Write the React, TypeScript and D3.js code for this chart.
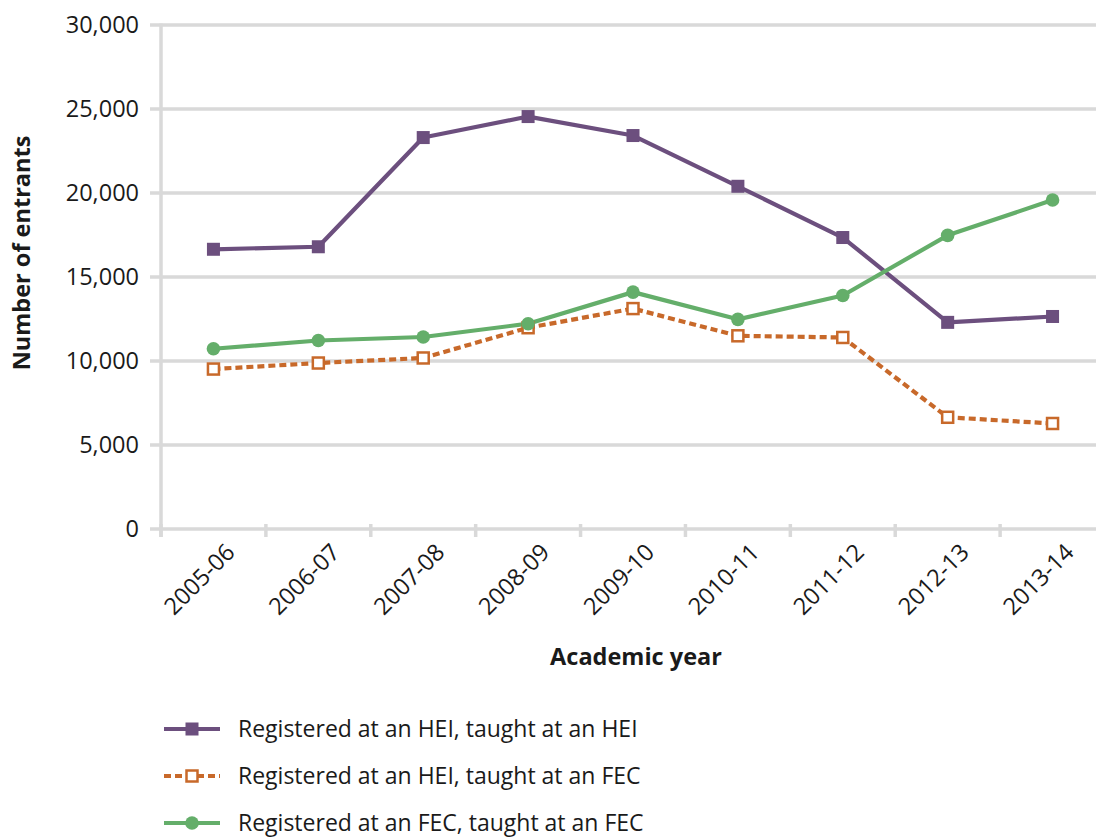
import React from "react";
import * as d3 from "d3";

const years = ["2005-06","2006-07","2007-08","2008-09","2009-10","2010-11","2011-12","2012-13","2013-14"];
const heiHei = [16650, 16800, 23300, 24550, 23420, 20400, 17350, 12300, 12650];
const heiFec = [9520, 9880, 10180, 11980, 13120, 11500, 11400, 6650, 6280];
const fecFec = [10730, 11220, 11430, 12220, 14100, 12480, 13900, 17480, 19580];
const yTicks = [0, 5000, 10000, 15000, 20000, 25000, 30000];
const seriesNames = [
  "Registered at an HEI, taught at an HEI",
  "Registered at an HEI, taught at an FEC",
  "Registered at an FEC, taught at an FEC",
];

const W = 1096, H = 837;
const FONT = "'Open Sans', sans-serif";
const PURPLE = "#6c4f7e";
const ORANGE = "#c8692a";
const GREEN = "#64ae6a";
const GRID = "#d9d9d9";

export default function App() {
  const left = 161, right = 1105, top = 25, bottom = 529;
  const x = d3.scaleBand<string>().domain(years).range([left, right]).paddingInner(0).paddingOuter(0);
  const y = d3.scaleLinear().domain([0, 30000]).range([bottom, top]);
  const cx = (d: string) => (x(d) as number) + x.bandwidth() / 2;
  const line = d3.line<number>().x((_, i) => cx(years[i])).y((v) => y(v));

  const series = [
    { name: seriesNames[0], vals: heiHei, color: PURPLE, dash: undefined as string | undefined, marker: "fsq" },
    { name: seriesNames[1], vals: heiFec, color: ORANGE, dash: "7,4", marker: "osq" },
    { name: seriesNames[2], vals: fecFec, color: GREEN, dash: undefined, marker: "circ" },
  ];

  const marker = (m: string, px: number, py: number, color: string, key: string | number) => {
    if (m === "fsq") return <rect key={key} x={px - 6.5} y={py - 6.5} width={13} height={13} fill={color} />;
    if (m === "osq") return <rect key={key} x={px - 5.5} y={py - 5.5} width={11} height={11} fill="#fff" stroke={color} strokeWidth={2.5} />;
    return <circle key={key} cx={px} cy={py} r={6.8} fill={color} />;
  };

  const bandTicks = years.map((d) => x(d) as number).concat([right]);

  return (
    <svg width={W} height={H} style={{ position: "absolute", left: 0, top: 0, display: "block" }} fontFamily={FONT}>
      <rect width={W} height={H} fill="#fff" />
      {yTicks.map((t) => (
        <line key={t} x1={150} x2={W} y1={y(t)} y2={y(t)} stroke={GRID} strokeWidth={3.5} />
      ))}
      <line x1={left} x2={left} y1={top - 1.5} y2={bottom + 8} stroke={GRID} strokeWidth={3.5} />
      {bandTicks.map((t, i) => (
        <line key={i} x1={t} x2={t} y1={bottom - 5} y2={bottom + 8} stroke={GRID} strokeWidth={3.5} />
      ))}
      {yTicks.map((t) => (
        <text key={t} x={139} y={y(t)} dy="0.35em" textAnchor="end" fontSize={23.5} fill="#1a1a1a">
          {d3.format(",")(t)}
        </text>
      ))}
      {years.map((d) => (
        <text key={d} transform={`translate(${cx(d) + 17},${bottom + 19}) rotate(-45)`} textAnchor="end" dy="0.35em" fontSize={23.5} fill="#1a1a1a">
          {d}
        </text>
      ))}
      <text transform={`translate(${22},${253}) rotate(-90)`} textAnchor="middle" dy="0.35em" fontSize={23.5} fontWeight="bold" fill="#1a1a1a">
        Number of entrants
      </text>
      <text x={636} y={657} textAnchor="middle" dy="0.35em" fontSize={23.5} fontWeight="bold" fill="#1a1a1a">
        Academic year
      </text>
      {series.map((s) => (
        <path key={s.name} d={line(s.vals) || ""} fill="none" stroke={s.color} strokeWidth={4.2} strokeDasharray={s.dash} strokeLinejoin="round" />
      ))}
      {series.map((s) => (
        <g key={s.name + "m"}>{s.vals.map((v, i) => marker(s.marker, cx(years[i]), y(v), s.color, i))}</g>
      ))}
      {series.map((s, i) => {
        const ly = 729 + i * 47;
        return (
          <g key={s.name + "l"}>
            <line x1={164} x2={220} y1={ly} y2={ly} stroke={s.color} strokeWidth={4.2} strokeDasharray={s.dash} />
            {marker(s.marker, 192, ly, s.color, "m")}
            <text x={238} y={ly} dy="0.35em" fontSize={23} fill="#1a1a1a">{s.name}</text>
          </g>
        );
      })}
    </svg>
  );
}
